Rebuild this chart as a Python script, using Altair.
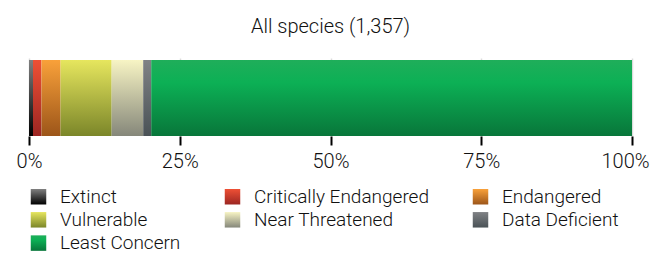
import altair as alt
import pandas as pd

categories = ["Extinct", "Critically Endangered", "Endangered", "Vulnerable",
              "Near Threatened", "Data Deficient", "Least Concern"]
counts = [9, 19, 43, 115, 71, 18, 1082]
top_colors = ["#808080", "#ee5035", "#f9a13a", "#e6e65e", "#f7f4c4", "#808285", "#1fae5a"]
bottom_colors = ["#000000", "#9c2622", "#9c5519", "#7b8629", "#85877a", "#4a5256", "#08763a"]
tick_values = [0, 0.25, 0.5, 0.75, 1.0]
title_text = "All species (1,357)"

df = pd.DataFrame({"category": categories, "count": counts,
                   "idx": list(range(len(categories))), "grp": ["all"] * len(categories)})


def grad_expr(top, bottom, mid=None):
    stops = [f"{{offset: 0, color: '{top}'}}"]
    if mid is not None:
        stops.append(f"{{offset: 0.3, color: '{mid}'}}")
    stops.append(f"{{offset: 1, color: '{bottom}'}}")
    return ("{gradient: 'linear', x1: 0, y1: 0, x2: 0, y2: 1, stops: [" + ", ".join(stops) + "]}")


gexprs = []
for i, c in enumerate(categories):
    mid = "#0cb055" if c == "Least Concern" else None
    gexprs.append(grad_expr(top_colors[i], bottom_colors[i], mid))

FONT = "Roboto"

chart = alt.Chart(df).mark_bar(strokeWidth=0).encode(
    x=alt.X("count:Q", stack="normalize",
            scale=alt.Scale(domain=[0, 1], nice=False),
            axis=alt.Axis(values=tick_values, format=".0%", title=None, domain=False,
                          grid=True, gridColor="#dcdcdc", gridWidth=1.5,
                          ticks=True, tickColor="#000000", tickWidth=2, tickSize=9,
                          labelFont=FONT, labelFontSize=20, labelFontWeight=300,
                          labelColor="#111111", labelPadding=6, labelFlush=False,
                          labelOffset={"condition": {"test": "datum.value === 1", "value": -7},
                                       "value": 0})),
    y=alt.Y("grp:N", axis=None,
            scale=alt.Scale(paddingInner=0, paddingOuter=0.01316, align=1)),
    order=alt.Order("idx:Q"),
    fill=alt.Fill("category:N",
                  scale=alt.Scale(domain=categories,
                                  range=[alt.ExprRef(expr=g) for g in gexprs]),
                  legend=alt.Legend(orient="none", legendX=0, legendY=129, columns=3,
                                    direction="horizontal",
                                    title=None, symbolType="square", symbolSize=240,
                                    symbolStrokeWidth=0, columnPadding=42, rowPadding=3.3,
                                    labelFont=FONT, labelFontSize=19, labelFontWeight=300,
                                    labelColor="#111111", labelOffset=12,
                                    labelLimit=400)),
).properties(
    width=603, height=78,
    title=alt.TitleParams(title_text, anchor="middle", font=FONT, fontSize=20,
                          fontWeight=300, color="#111111", offset=21),
    autosize=alt.AutoSizeParams(type="none"),
    padding={"left": 21, "top": 50, "right": 18, "bottom": 118},
).configure_view(stroke=None)

chart.save("out.html", embed_options={"renderer": "svg", "actions": False})
